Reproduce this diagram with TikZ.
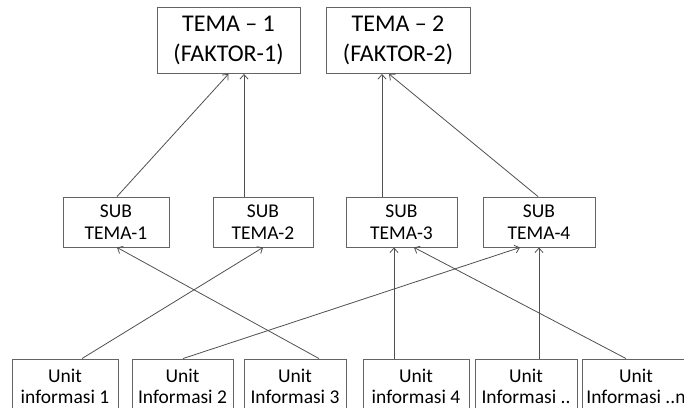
\documentclass[tikz,border=0pt]{standalone}
\usepackage{fontspec}
\setmainfont{Carlito}
\usetikzlibrary{arrows.meta}
\definecolor{boxline}{RGB}{100,100,100}
\definecolor{conline}{RGB}{80,80,80}
\begin{document}
\begin{tikzpicture}[x=1pt,y=-1pt,
  tbox/.style={draw=boxline,line width=0.9pt,inner sep=0pt,align=center,font=\fontsize{24}{30}\selectfont,minimum height=66pt},
  sbox/.style={draw=boxline,line width=0.9pt,inner sep=0pt,align=center,font=\fontsize{19.5}{22}\selectfont,minimum height=50pt},
  ubox/.style={draw=boxline,line width=0.9pt,inner sep=0pt,align=center,font=\fontsize{19.5}{21}\selectfont,minimum height=54pt},
  conn/.style={draw=conline,line width=0.8pt,-{Straight Barb[length=4.5pt,width=8pt]}}]
\useasboundingbox (0,0) rectangle (684,407);
\clip (0,0) rectangle (684,407);
\fill[white] (0,0) rectangle (684,407);
% top level
\node[tbox,minimum width=143pt] (t1) at (228.5,40.5) {TEMA -- 1\\(FAKTOR-1)};
\node[tbox,minimum width=144pt] (t2) at (398,40.5) {TEMA -- 2\\(FAKTOR-2)};
% sub themes
\node[sbox,minimum width=106pt] (s1) at (116,222) {SUB\\TEMA-1};
\node[sbox,minimum width=100pt] (s2) at (263,222) {SUB\\TEMA-2};
\node[sbox,minimum width=111pt] (s3) at (401.5,222) {SUB\\TEMA-3};
\node[sbox,minimum width=112pt] (s4) at (539,222) {SUB\\TEMA-4};
% units
\node[ubox,minimum width=106pt] (u1) at (65,386) {Unit\\informasi 1};
\node[ubox,minimum width=101pt] (u2) at (182.5,386) {Unit\\Informasi 2};
\node[ubox,minimum width=102pt] (u3) at (295,386) {Unit\\Informasi 3};
\node[ubox,minimum width=106pt] (u4) at (416,386) {Unit\\informasi 4};
\node[ubox,minimum width=102pt] (u5) at (526,386) {Unit\\Informasi ..};
\node[ubox,minimum width=108pt] (u6) at (636,386) {Unit\\Informasi ..n};
% connectors sub -> tema
\draw[conn] ([xshift=1pt]s1.north) -- (t1.south);
\draw[conn] ([xshift=-19pt]s2.north) -- ([xshift=15.5pt]t1.south);
\draw[conn] ([xshift=-19.5pt]s3.north) -- ([xshift=-16pt]t2.south);
\draw[conn] ([xshift=-1pt]s4.north) -- ([xshift=-9pt]t2.south);
% connectors unit -> sub
\draw[conn] ([xshift=17pt]u1.north) -- (s2.south);
\draw[conn] ([xshift=0.5pt]u2.north) -- ([xshift=-19pt]s4.south);
\draw[conn] ([xshift=24pt]u3.north) -- ([xshift=1pt]s1.south);
\draw[conn] ([xshift=-22pt]u4.north) -- ([xshift=-7.5pt]s3.south);
\draw[conn] ([xshift=13pt]u5.north) -- (s4.south);
\draw[conn] ([xshift=-10pt]u6.north) -- ([xshift=12.5pt]s3.south);
\end{tikzpicture}
\end{document}
